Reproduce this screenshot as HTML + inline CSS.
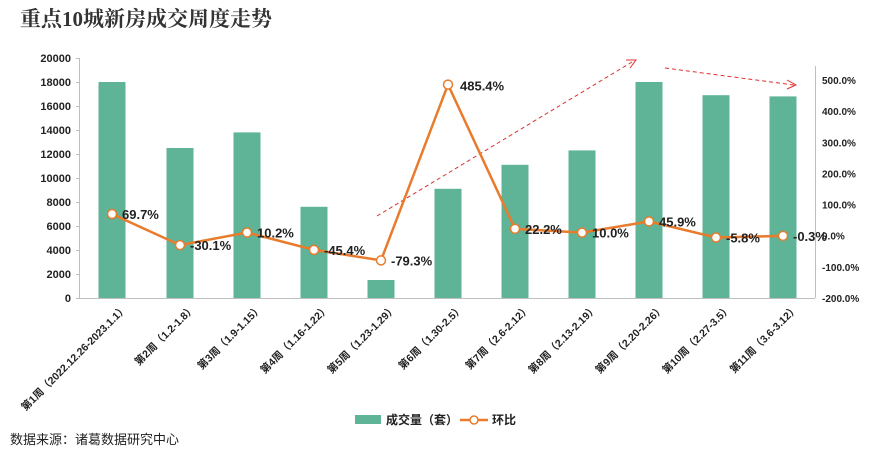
<!DOCTYPE html>
<html><head><meta charset="utf-8"><style>
body{margin:0;background:#fff;}
svg{display:block;font-family:"Liberation Sans","Noto Sans CJK SC",sans-serif;}
</style></head><body>
<svg width="869" height="456" viewBox="0 0 869 456">
<text x="20" y="26" font-size="21" font-weight="bold" fill="#333" font-family="'Liberation Serif','Noto Serif CJK SC',serif">重点10城新房成交周度走势</text>
<g stroke="#bfbfbf" stroke-width="1">
<line x1="79.5" y1="58" x2="79.5" y2="298"/>
<line x1="79" y1="298.5" x2="815" y2="298.5"/>
<line x1="815.5" y1="66" x2="815.5" y2="298"/>
</g>
<g id="lt" font-size="11" font-weight="bold" fill="#222" text-anchor="end"></g>
<g id="rt" font-size="10" font-weight="bold" fill="#222"></g>
<g id="bars" fill="#5fb396"></g>
<g id="xl" font-size="10.5" font-weight="bold" fill="#222"></g>
<line x1="377" y1="216" x2="632" y2="62" stroke="#e03030" stroke-width="1" stroke-dasharray="4,3"/>
<path d="M626,60 L636,60 L630,68" fill="none" stroke="#e03030" stroke-width="1"/>
<line x1="665" y1="68" x2="794" y2="85" stroke="#e03030" stroke-width="1" stroke-dasharray="4,3"/>
<path d="M787,80 L796,85 L787,89" fill="none" stroke="#e03030" stroke-width="1"/>
<polyline id="ln" fill="none" stroke="#e87b2c" stroke-width="2.5"/>
<g id="pts"></g>
<g id="pl" font-size="13" font-weight="bold" fill="#222"></g>
<rect x="355" y="415" width="26" height="9" fill="#5fb396"/>
<text x="386" y="424" font-size="12" font-weight="bold" fill="#222">成交量（套）</text>
<line x1="460" y1="420" x2="488" y2="420" stroke="#e87b2c" stroke-width="2.5"/>
<circle cx="474" cy="420" r="4" fill="#fff" stroke="#e87b2c" stroke-width="1.5"/>
<text x="492" y="424" font-size="12" font-weight="bold" fill="#222">环比</text>
<text x="10" y="444" font-size="13" fill="#222">数据来源：诸葛数据研究中心</text>
</svg>
<script>
const ns="http://www.w3.org/2000/svg";
function el(p,t,a,txt){const e=document.createElementNS(ns,t);for(const k in a)e.setAttribute(k,a[k]);if(txt!==undefined)e.textContent=txt;document.getElementById(p).appendChild(e);return e;}
for(let v=0;v<=20000;v+=2000){const y=298-v*0.012;el('lt','text',{x:71,y:y+4},String(v));el('lt','line',{x1:76,x2:79,y1:y+.5,y2:y+.5,stroke:'#bfbfbf'});}
for(let p=-200;p<=500;p+=100){const y=298-(p+200)*0.3114;el('rt','text',{x:822,y:y+4},p.toFixed(1)+'%');}
const xs=[112,180,247,314,381,448,515,582,649,716,783];
const vals=[18000,12500,13800,7600,1500,9100,11100,12300,18000,16900,16800];
const pc=[69.7,-30.1,10.2,-45.4,-79.3,485.4,22.2,10.0,45.9,-5.8,-0.3];
const labs=['第1周（2022.12.26-2023.1.1）','第2周（1.2-1.8）','第3周（1.9-1.15）','第4周（1.16-1.22）','第5周（1.23-1.29）','第6周（1.30-2.5）','第7周（2.6-2.12）','第8周（2.13-2.19）','第9周（2.20-2.26）','第10周（2.27-3.5）','第11周（3.6-3.12）'];
let pts=[];
xs.forEach((x,i)=>{const h=vals[i]*0.012;el('bars','rect',{x:x-13.5,y:298-h,width:27,height:h});
el('xl','text',{x:0,y:0,'text-anchor':'end',transform:`translate(${x+16},${309}) rotate(-45)`},labs[i]);
const y=298-(pc[i]+200)*0.3114;pts.push(x+','+y);});
document.getElementById('ln').setAttribute('points',pts.join(' '));
xs.forEach((x,i)=>{const y=298-(pc[i]+200)*0.3114;el('pts','circle',{cx:x,cy:y,r:4.5,fill:'#fff',stroke:'#e87b2c','stroke-width':1.5});
el('pl','text',{x:x+(i==5?12:10),y:y+(i==5?6:5)},pc[i].toFixed(1)+'%');});
</script>
</body></html>
